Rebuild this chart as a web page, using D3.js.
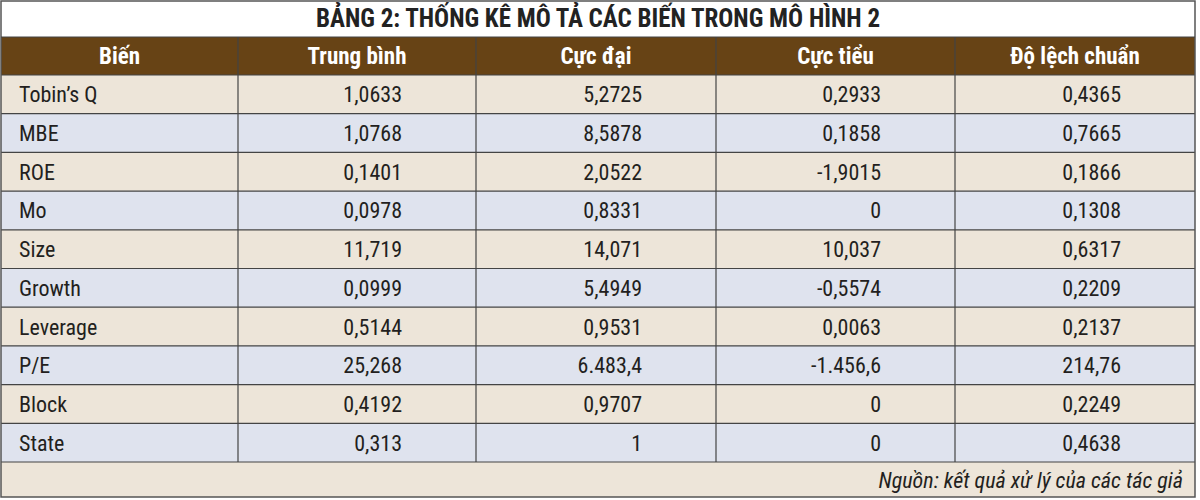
<!DOCTYPE html><html><head><meta charset="utf-8"><script src="https://cdn.jsdelivr.net/npm/d3@7"></script>
<style>body{margin:0;background:#fff}</style></head><body><svg id="c" width="1200" height="500"></svg>
<script>
const title="BẢNG 2: THỐNG KÊ MÔ TẢ CÁC BIẾN TRONG MÔ HÌNH 2";
const headers=["Biến","Trung bình","Cực đại","Cực tiểu","Độ lệch chuẩn"];
const variables=["Tobin’s Q","MBE","ROE","Mo","Size","Growth","Leverage","P/E","Block","State"];
const means=["1,0633","1,0768","0,1401","0,0978","11,719","0,0999","0,5144","25,268","0,4192","0,313"];
const maxs=["5,2725","8,5878","2,0522","0,8331","14,071","5,4949","0,9531","6.483,4","0,9707","1"];
const mins=["0,2933","0,1858","-1,9015","0","10,037","-0,5574","0,0063","-1.456,6","0","0"];
const sds=["0,4365","0,7665","0,1866","0,1308","0,6317","0,2209","0,2137","214,76","0,2249","0,4638"];
const source="Nguồn: kết quả xử lý của các tác giả";
const svg=d3.select("#c");
const F="'Liberation Sans Narrow','Roboto Condensed','Liberation Sans',sans-serif";
const colEdges=[1,238,476,716,955,1195];
const x=d3.scaleOrdinal().domain(d3.range(5)).range(colEdges.slice(0,5));
const y=d3.scaleBand().domain(d3.range(10)).range([75,462]);
svg.append("text").attr("x",598).attr("y",27).attr("text-anchor","middle").attr("font-family",F).attr("font-weight","bold").attr("font-size",25).attr("fill","#222").text(title);
svg.append("rect").attr("x",1).attr("y",37).attr("width",1194).attr("height",38).attr("fill","#674315");
headers.forEach((h,i)=>svg.append("text").attr("x",(colEdges[i]+colEdges[i+1])/2).attr("y",64).attr("text-anchor","middle").attr("font-family",F).attr("font-weight","bold").attr("font-size",23).attr("fill","#fff").text(h));
const rows=variables.map((v,i)=>[v,means[i],maxs[i],mins[i],sds[i]]);
rows.forEach((r,i)=>{
  svg.append("rect").attr("x",1).attr("y",y(i)).attr("width",1194).attr("height",y.bandwidth()).attr("fill",i%2?"#dfe3ee":"#ede5d9");
  r.forEach((t,j)=>{
    svg.append("text").attr("x",j==0?19:colEdges[j+1]-74).attr("y",y(i)+y.bandwidth()/2+8).attr("text-anchor",j==0?"start":"end").attr("font-family",F).attr("font-size",22).attr("fill","#231f20").text(t);
  });
});
svg.append("rect").attr("x",1).attr("y",462).attr("width",1194).attr("height",35).attr("fill","#ede5d9");
svg.append("text").attr("x",1183).attr("y",488).attr("text-anchor","end").attr("font-family",F).attr("font-style","italic").attr("font-size",22).attr("fill","#231f20").text(source);
// grid
for(let i=0;i<=10;i++)svg.append("line").attr("x1",1).attr("x2",1195).attr("y1",y(0)+i*y.bandwidth()).attr("y2",y(0)+i*y.bandwidth()).attr("stroke","#444").attr("stroke-width",1.2);
colEdges.slice(1,5).forEach(cx=>svg.append("line").attr("x1",cx).attr("x2",cx).attr("y1",37).attr("y2",462).attr("stroke","#444").attr("stroke-width",1.2));
svg.append("rect").attr("x",1).attr("y",1).attr("width",1194).attr("height",496).attr("fill","none").attr("stroke","#555").attr("stroke-width",1.5);
svg.append("line").attr("x1",1).attr("x2",1195).attr("y1",37).attr("y2",37).attr("stroke","#444");
</script></body></html>
